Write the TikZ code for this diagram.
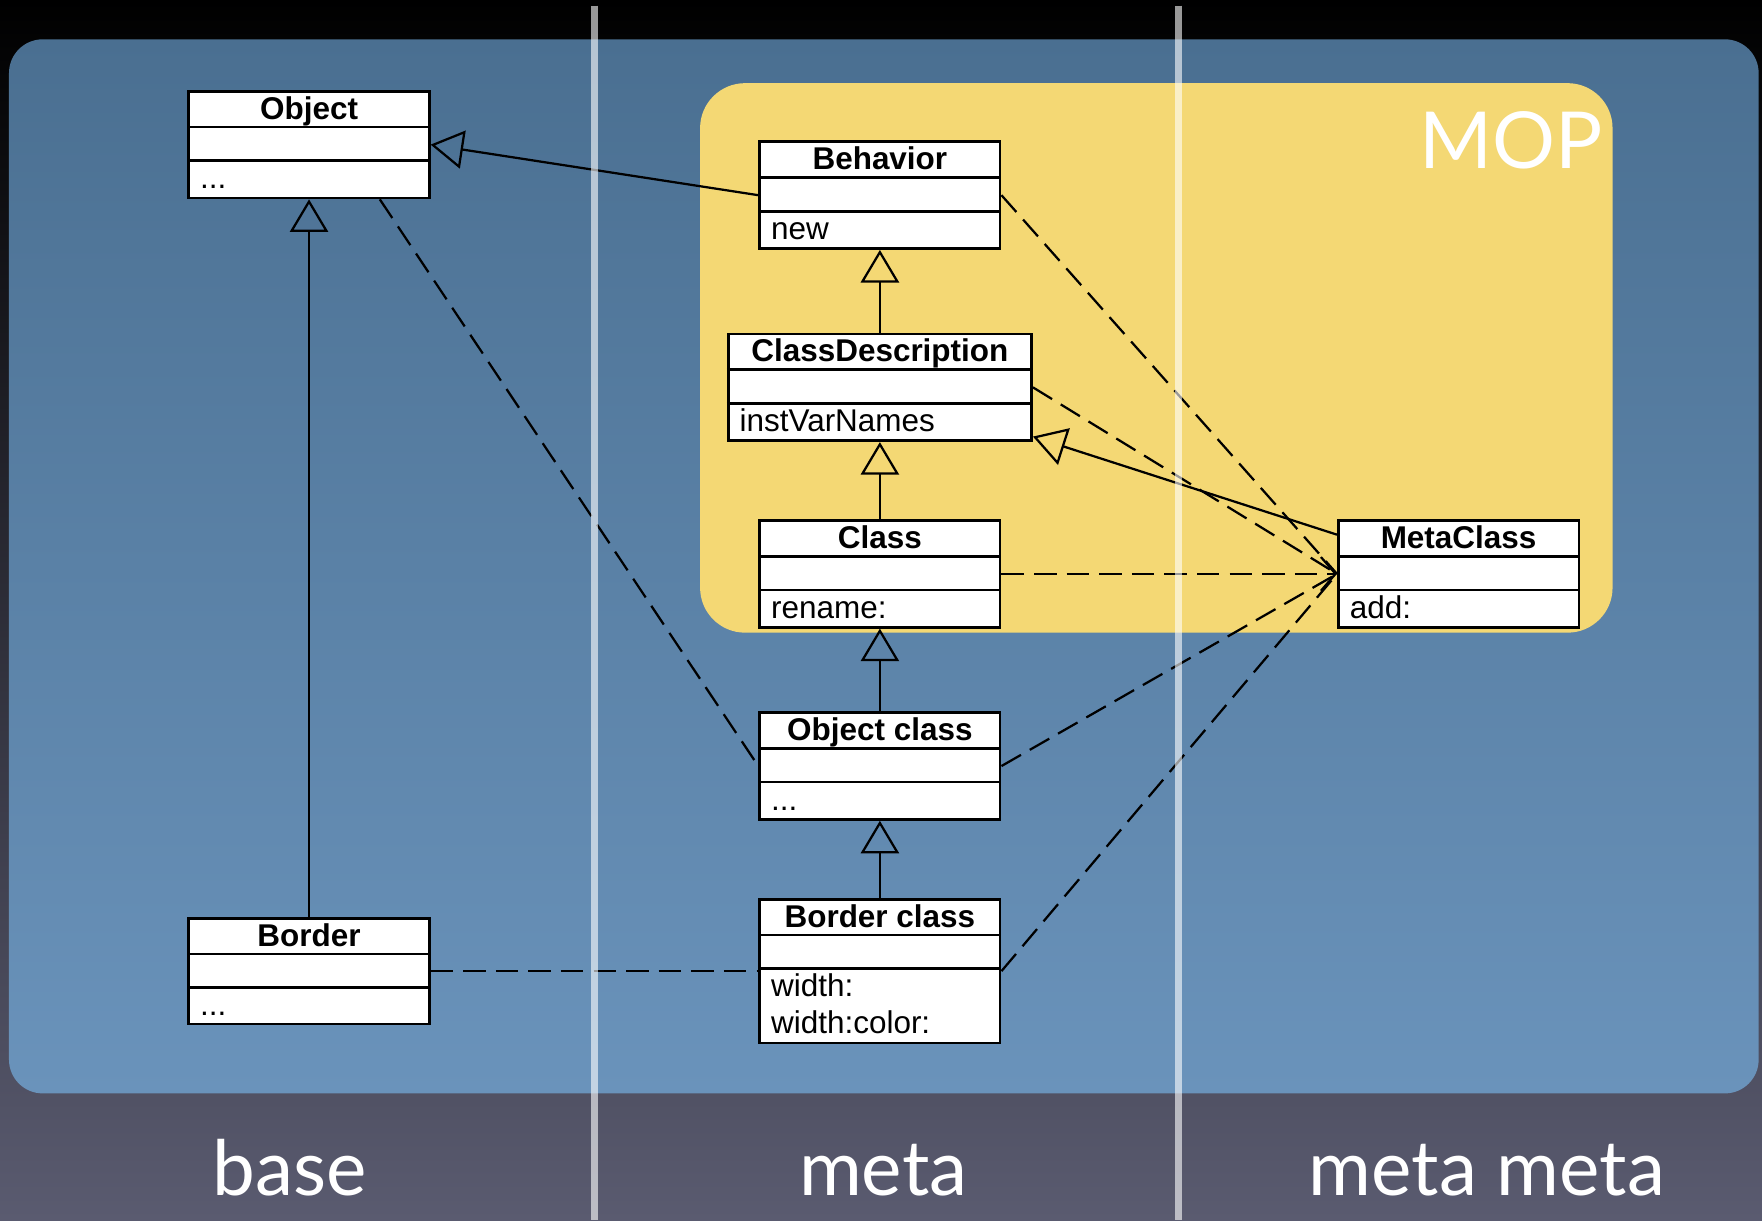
\documentclass[tikz,border=0pt]{standalone}
\usepackage{fontspec}
\setmainfont{Liberation Sans}
\newfontfamily\labelfont{Lato}
\usetikzlibrary{arrows.meta}

\definecolor{slate}{HTML}{5A5B70}
\definecolor{navy}{HTML}{1A1D3C}
\definecolor{paneltop}{HTML}{4A6F91}
\definecolor{panelbot}{HTML}{6A93BB}
\definecolor{mopyellow}{HTML}{F4D874}

\tikzset{
  classbox/.style={draw=black, fill=white, line width=1.2pt, inner sep=0pt, anchor=north},
  rule/.style={line width=1.2pt},
  classname/.style={font=\fontsize{14pt}{16.5pt}\selectfont\bfseries, inner sep=0pt, anchor=base},
  member/.style={font=\fontsize{14pt}{16.5pt}\selectfont, inner sep=0pt, anchor=base west},
  gen/.style={line width=1pt, -{Triangle[open, length=14.5pt, width=17pt, line width=1pt]}},
  dep/.style={line width=1pt, dash pattern=on 10pt off 4.5pt},
  deparrow/.style={dep, -{Straight Barb[length=6.5pt, width=15pt, line width=1pt]}},
  level/.style={text=white, font=\labelfont\fontsize{34pt}{40pt}\selectfont, inner sep=0pt, anchor=base},
  divider/.style={draw=white, draw opacity=0.6, line width=3pt},
}

% UML class box: name, centre x, top y, width, height, class name
\newcommand{\umlclass}[6]{%
  \node[classbox, minimum width=#4, minimum height=#5] (#1) at (#2,#3) {};
  \draw[rule] ([yshift=-16.5pt]#1.north west) -- ([yshift=-16.5pt]#1.north east);
  \draw[rule] ([yshift=-31.5pt]#1.north west) -- ([yshift=-31.5pt]#1.north east);
  \node[classname] (#1-name) at ([yshift=-13pt]#1.north) {#6};
}

\begin{document}
\begin{tikzpicture}[x=0.5pt, y=-0.5pt]
  \useasboundingbox (0,0) rectangle (1568,1086);

  % backdrop, panel and MOP area
  \shade[top color=black, middle color=navy, bottom color=slate] (0,0) rectangle (1568,1086);
  \shade[top color=paneltop, bottom color=panelbot, rounded corners=15pt] (8,35) rectangle (1565,973);
  \fill[mopyellow, rounded corners=20pt] (623,74) rectangle (1435,563);
  \node[level, anchor=base east, font=\labelfont\fontsize{35pt}{40pt}\selectfont] (mop) at (1427,150) {MOP};

  % classes
  \umlclass{obj}{275}{80}{107pt}{47.5pt}{Object}
  \node[member] (obj-m) at ([xshift=5.5pt,yshift=-44pt]obj.north west) {...};

  \umlclass{beh}{783}{125}{107pt}{47.5pt}{Behavior}
  \node[member] (beh-m) at ([xshift=5.5pt,yshift=-44pt]beh.north west) {new};

  \umlclass{cd}{783}{296}{135pt}{47.5pt}{ClassDescription}
  \node[member] (cd-m) at ([xshift=5.5pt,yshift=-44pt]cd.north west) {instVarNames};

  \umlclass{cls}{783}{462}{107pt}{47.5pt}{Class}
  \node[member] (cls-m) at ([xshift=5.5pt,yshift=-44pt]cls.north west) {rename:};

  \umlclass{mc}{1298}{462}{107pt}{47.5pt}{MetaClass}
  \node[member] (mc-m) at ([xshift=5.5pt,yshift=-44pt]mc.north west) {add:};

  \umlclass{objc}{783}{633}{107pt}{47.5pt}{Object class}
  \node[member] (objc-m) at ([xshift=5.5pt,yshift=-44pt]objc.north west) {...};

  \umlclass{bc}{783}{799}{107pt}{64pt}{Border class}
  \node[member] (bc-m1) at ([xshift=5.5pt,yshift=-44pt]bc.north west) {width:};
  \node[member] (bc-m2) at ([xshift=5.5pt,yshift=-60.5pt]bc.north west) {width:color:};

  \umlclass{bor}{275}{816}{107pt}{47pt}{Border}
  \node[member] (bor-m) at ([xshift=5.5pt,yshift=-44pt]bor.north west) {...};

  % generalisations
  \draw[gen] (beh.west) -- (obj.east);
  \draw[gen] (bor.north) -- (obj.south);
  \draw[gen] (cd.north) -- (beh.south);
  \draw[gen] (cls.north) -- (cd.south);
  \draw[gen] (objc.north) -- (cls.south);
  \draw[gen] (bc.north) -- (objc.south);
  \draw[gen] (mc) -- (cd);

  % instance-of dependencies
  \draw[dep] ([xshift=31.5pt]obj.south) -- (objc.west);
  \draw[dep] (beh.east) -- (mc.west);
  \draw[dep] (cd.east) -- (mc.west);
  \draw[deparrow] (cls.east) -- (mc.west);
  \draw[dep] (objc.east) -- (mc.west);
  \draw[dep] (bc.east) -- (mc.west);
  \draw[dep] (bor.east) -- (bc.west);

  % level dividers
  \draw[divider] (529,5) -- (529,1086);
  \draw[divider] (1049,5) -- (1049,1086);

  % level names
  \node[level] (lbl-base) at (258,1063.5) {base};
  \node[level] (lbl-meta) at (786,1063.5) {meta};
  \node[level] (lbl-metameta) at (1323,1063.5) {meta meta};
\end{tikzpicture}
\end{document}
